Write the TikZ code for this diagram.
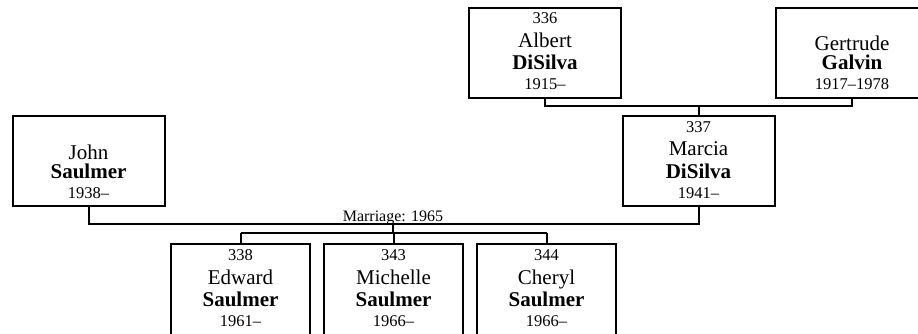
\documentclass[tikz,border=0pt]{standalone}
\usepackage{fontspec}
\setmainfont{Liberation Serif}
\begin{document}
\begin{tikzpicture}[x=1pt,y=1pt,
  pbox/.style={draw=black, line width=2pt, fill=white, inner sep=0pt, outer sep=0pt},
  conn/.style={draw=black, line width=2pt},
  smalltxt/.style={inner sep=0pt, font=\fontsize{16.5}{19}\selectfont},
  nametxt/.style={inner sep=0pt, font=\fontsize{21}{24}\selectfont},
  surtxt/.style={inner sep=0pt, font=\fontsize{21}{24}\selectfont\bfseries}]
\clip (0,0) rectangle (918,-334);
\fill[white] (0,0) rectangle (918,-334);
% #1 name, #2 x centre, #3 top, #4 width, #5 height, #6 number, #7 first, #8 last, #9 years
\newcommand{\famperson}[9]{%
  \node[pbox, minimum width=#4, minimum height=#5, anchor=north] (#1) at (#2,-#3) {};
  \if\relax\detokenize{#6}\relax
    \node[nametxt, anchor=base] (#1-first) at ([yshift=-43]#1.north) {#7};
  \else
    \node[smalltxt, anchor=base] (#1-num) at ([yshift=-16]#1.north) {#6};
    \node[nametxt, anchor=base] (#1-first) at ([yshift=-40]#1.north) {#7};
  \fi
  \node[surtxt, anchor=base] (#1-last) at ([yshift=-62]#1.north) {#8};
  \node[smalltxt, anchor=base] (#1-years) at ([yshift=-82]#1.north) {#9};
}
\famperson{albert}{545}{8}{152}{90}{336}{Albert}{DiSilva}{1915--}
\famperson{gertrude}{852}{8}{152}{90}{}{Gertrude}{Galvin}{1917--1978}
\famperson{john}{88.5}{116}{152}{90}{}{John}{Saulmer}{1938--}
\famperson{marcia}{698.5}{116}{152}{90}{337}{Marcia}{DiSilva}{1941--}
\famperson{edward}{240.5}{244}{139}{92}{338}{Edward}{Saulmer}{1961--}
\famperson{michelle}{393.5}{244}{139}{92}{343}{Michelle}{Saulmer}{1966--}
\famperson{cheryl}{546.5}{244}{139}{92}{344}{Cheryl}{Saulmer}{1966--}
% parents of Marcia
\draw[conn] (albert.south) -- ++(0,-8) coordinate (a1) -| (gertrude.south);
\draw[conn] (marcia.north) -- (marcia.north |- a1);
% marriage
\draw[conn] (john.south) -- ++(0,-18) coordinate (m1) -| (marcia.south);
\node[inner sep=0pt, font=\fontsize{16}{19}\selectfont, anchor=base] (marr) at (393,-221) {Marriage: 1965};
\coordinate (mc) at (marr.base |- m1);
\draw[conn] (mc) -- ++(0,-9) coordinate (k1);
\draw[conn] (edward.north |- k1) -- (cheryl.north |- k1);
\draw[conn] (edward.north) -- (edward.north |- k1);
\draw[conn] (michelle.north) -- (michelle.north |- k1);
\draw[conn] (cheryl.north) -- (cheryl.north |- k1);
\end{tikzpicture}
\end{document}
